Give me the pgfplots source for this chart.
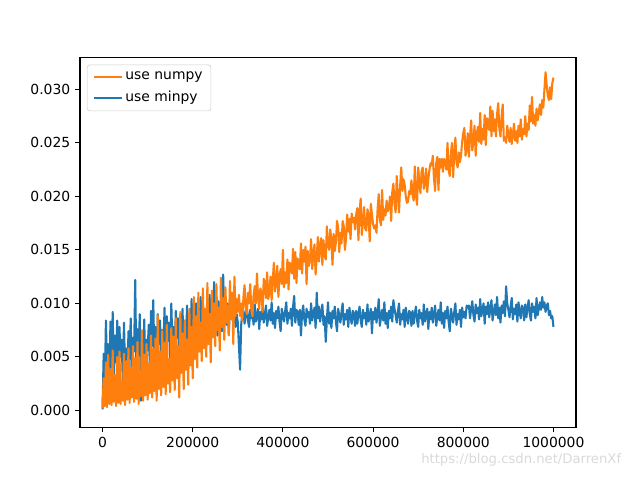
\documentclass[border=0pt]{standalone}
\usepackage{fontspec}
\setmainfont{DejaVu Sans}
\usepackage{pgfplots}
\pgfplotsset{compat=1.18}
\definecolor{mplblue}{HTML}{1F77B4}
\definecolor{mplorange}{HTML}{FF7F0E}
\begin{document}
\fontsize{10}{12}\selectfont
\begin{tikzpicture}
\begin{axis}[
  scale only axis, width=357.12pt, height=266.11pt,
  xmin=-50000, xmax=1050000,
  ymin=-0.00157, ymax=0.03297,
  axis line style={line width=0.8pt},
  tick style={line width=0.8pt, black},
  tick align=outside, major tick length=3.5pt,
  xtick pos=bottom, ytick pos=left,
  xtick={0,200000,400000,600000,800000,1000000},
  ytick={0,0.005,0.010,0.015,0.020,0.025,0.030},
  scaled ticks=false,
  /pgf/number format/assume math mode=true,
  xticklabel style={/pgf/number format/fixed, /pgf/number format/1000 sep={}},
  yticklabel style={/pgf/number format/fixed, /pgf/number format/fixed zerofill, /pgf/number format/precision=3},
  ticklabel style={font=\fontsize{10}{12}\selectfont},
  legend style={at={(0,1)}, anchor=north west, xshift=5pt, yshift=-5pt,
    draw=black!20, rounded corners=2pt, font=\fontsize{10}{12}\selectfont,
    inner xsep=4pt, inner ysep=3pt, row sep=3pt},
  legend cell align=left,
  legend image code/.code={\draw[#1, line width=1.5pt] (0pt,0pt) -- (20pt,0pt);},
]
\coordinate (O) at (rel axis cs:0,0);
\addplot[color=mplblue, line width=1.5pt, line join=round, forget plot] table {
x y
0 0.0001
2500 0.0053
5000 0.0022
7500 0.0084
10000 0.0035
12500 0.0062
15000 0.0018
17500 0.0083
20000 0.0040
22500 0.0092
25000 0.0028
27500 0.0070
30000 0.0045
32500 0.0084
35000 0.0015
37500 0.0078
40000 0.0050
42500 0.0066
45000 0.0025
47500 0.0082
50000 0.0038
52500 0.0058
55000 0.0030
57500 0.0074
60000 0.0048
62500 0.0086
65000 0.0022
67500 0.0068
70000 0.0055
72500 0.0122
75000 0.0035
77500 0.0076
80000 0.0052
82500 0.0090
85000 0.0009
87500 0.0072
90000 0.0042
92500 0.0085
95000 0.0030
97500 0.0066
100000 0.0056
102500 0.0080
105000 0.0038
107500 0.0093
110000 0.0060
112500 0.0103
115000 0.0045
117500 0.0078
120000 0.0028
122500 0.0090
125000 0.0062
127500 0.0084
130000 0.0040
132500 0.0075
135000 0.0058
137500 0.0096
140000 0.0036
142500 0.0088
145000 0.0065
147500 0.0082
150000 0.0048
152500 0.0100
155000 0.0060
157500 0.0078
160000 0.0052
162500 0.0093
165000 0.0068
167500 0.0086
170000 0.0044
172500 0.0090
175000 0.0070
177500 0.0095
180000 0.0036
182500 0.0084
185000 0.0066
187500 0.0098
190000 0.0058
192500 0.0080
195000 0.0072
197500 0.0104
200000 0.0062
202500 0.0092
205000 0.0076
207500 0.0100
210000 0.0055
212500 0.0088
215000 0.0070
217500 0.0106
220000 0.0066
222500 0.0094
225000 0.0080
227500 0.0086
230000 0.0060
232500 0.0097
235000 0.0074
237500 0.0108
240000 0.0068
242500 0.0092
245000 0.0084
247500 0.0120
250000 0.0076
252500 0.0096
255000 0.0070
257500 0.0102
260000 0.0088
262500 0.0082
265000 0.0074
267500 0.0127
270000 0.0086
272500 0.0094
275000 0.0080
277500 0.0100
280000 0.0072
282500 0.0096
285000 0.0088
287500 0.0104
290000 0.0084
292500 0.0092
295000 0.0078
297500 0.0090
300000 0.0082
302500 0.0060
305000 0.0038
307500 0.0080
310000 0.0092
312500 0.0093
315000 0.0081
317500 0.0090
320000 0.0097
322500 0.0084
325000 0.0078
327500 0.0094
330000 0.0086
332500 0.0091
335000 0.0080
337500 0.0099
340000 0.0083
342500 0.0089
345000 0.0095
347500 0.0076
350000 0.0092
352500 0.0085
355000 0.0096
357500 0.0082
360000 0.0090
362500 0.0098
365000 0.0079
367500 0.0087
370000 0.0094
372500 0.0084
375000 0.0101
377500 0.0081
380000 0.0091
382500 0.0077
385000 0.0093
387500 0.0086
390000 0.0097
392500 0.0083
395000 0.0074
397500 0.0095
400000 0.0089
402500 0.0083
405000 0.0093
407500 0.0101
410000 0.0081
412500 0.0091
415000 0.0086
417500 0.0095
420000 0.0079
422500 0.0097
425000 0.0107
427500 0.0082
430000 0.0094
432500 0.0092
435000 0.0080
437500 0.0094
440000 0.0070
442500 0.0091
445000 0.0098
447500 0.0085
450000 0.0079
452500 0.0095
455000 0.0087
457500 0.0092
460000 0.0081
462500 0.0100
465000 0.0084
467500 0.0090
470000 0.0096
472500 0.0077
475000 0.0110
477500 0.0086
480000 0.0097
482500 0.0083
485000 0.0091
487500 0.0099
490000 0.0080
492500 0.0088
495000 0.0064
497500 0.0085
500000 0.0101
502500 0.0081
505000 0.0091
507500 0.0077
510000 0.0093
512500 0.0086
515000 0.0097
517500 0.0083
520000 0.0074
522500 0.0095
525000 0.0089
527500 0.0082
530000 0.0092
532500 0.0100
535000 0.0080
537500 0.0090
540000 0.0085
542500 0.0094
545000 0.0078
547500 0.0096
550000 0.0087
552500 0.0081
555000 0.0093
557500 0.0091
560000 0.0079
562500 0.0093
565000 0.0081
567500 0.0090
570000 0.0097
572500 0.0084
575000 0.0078
577500 0.0094
580000 0.0086
582500 0.0091
585000 0.0080
587500 0.0099
590000 0.0083
592500 0.0089
595000 0.0095
597500 0.0072
600000 0.0092
602500 0.0085
605000 0.0096
607500 0.0082
610000 0.0090
612500 0.0104
615000 0.0079
617500 0.0087
620000 0.0094
622500 0.0084
625000 0.0101
627500 0.0081
630000 0.0091
632500 0.0077
635000 0.0093
637500 0.0086
640000 0.0097
642500 0.0083
645000 0.0103
647500 0.0095
650000 0.0089
652500 0.0082
655000 0.0092
657500 0.0100
660000 0.0080
662500 0.0090
665000 0.0085
667500 0.0094
670000 0.0078
672500 0.0096
675000 0.0087
677500 0.0081
680000 0.0093
682500 0.0091
685000 0.0079
687500 0.0093
690000 0.0081
692500 0.0090
695000 0.0097
697500 0.0084
700000 0.0078
702500 0.0094
705000 0.0086
707500 0.0091
710000 0.0080
712500 0.0099
715000 0.0083
717500 0.0089
720000 0.0095
722500 0.0076
725000 0.0092
727500 0.0085
730000 0.0096
732500 0.0082
735000 0.0090
737500 0.0098
740000 0.0079
742500 0.0087
745000 0.0094
747500 0.0084
750000 0.0101
752500 0.0081
755000 0.0091
757500 0.0077
760000 0.0093
762500 0.0086
765000 0.0097
767500 0.0083
770000 0.0074
772500 0.0095
775000 0.0089
777500 0.0082
780000 0.0092
782500 0.0100
785000 0.0080
787500 0.0090
790000 0.0085
792500 0.0094
795000 0.0078
797500 0.0096
800000 0.0087
802500 0.0092
805000 0.0086
807500 0.0098
810000 0.0096
812500 0.0098
815000 0.0086
817500 0.0095
820000 0.0102
822500 0.0089
825000 0.0083
827500 0.0099
830000 0.0091
832500 0.0096
835000 0.0085
837500 0.0104
840000 0.0088
842500 0.0094
845000 0.0100
847500 0.0081
850000 0.0097
852500 0.0090
855000 0.0101
857500 0.0087
860000 0.0095
862500 0.0103
865000 0.0084
867500 0.0092
870000 0.0099
872500 0.0089
875000 0.0106
877500 0.0086
880000 0.0096
882500 0.0082
885000 0.0098
887500 0.0091
890000 0.0102
892500 0.0088
895000 0.0116
897500 0.0100
900000 0.0094
902500 0.0087
905000 0.0097
907500 0.0105
910000 0.0085
912500 0.0095
915000 0.0090
917500 0.0099
920000 0.0083
922500 0.0101
925000 0.0092
927500 0.0086
930000 0.0098
932500 0.0096
935000 0.0084
937500 0.0099
940000 0.0087
942500 0.0096
945000 0.0103
947500 0.0090
950000 0.0084
952500 0.0100
955000 0.0092
957500 0.0097
960000 0.0086
962500 0.0105
965000 0.0089
967500 0.0095
970000 0.0101
972500 0.0094
975000 0.0106
977500 0.0096
980000 0.0101
982500 0.0092
985000 0.0098
987500 0.0100
990000 0.0089
992500 0.0093
995000 0.0086
997500 0.0088
1000000 0.0078
};
\addplot[color=mplorange, line width=1.5pt, line join=round] table {
x y
0 0.0002
2500 0.0030
5000 0.0004
7500 0.0045
10000 0.0003
12500 0.0052
15000 0.0006
17500 0.0038
20000 0.0005
22500 0.0056
25000 0.0008
27500 0.0033
30000 0.0004
32500 0.0050
35000 0.0007
37500 0.0055
40000 0.0006
42500 0.0028
45000 0.0009
47500 0.0053
50000 0.0005
52500 0.0046
55000 0.0010
57500 0.0058
60000 0.0007
62500 0.0040
65000 0.0012
67500 0.0060
70000 0.0008
72500 0.0049
75000 0.0011
77500 0.0064
80000 0.0006
82500 0.0037
85000 0.0013
87500 0.0075
90000 0.0009
92500 0.0052
95000 0.0014
97500 0.0062
100000 0.0010
102500 0.0044
105000 0.0016
107500 0.0070
110000 0.0012
112500 0.0058
115000 0.0018
117500 0.0067
120000 0.0009
122500 0.0089
125000 0.0020
127500 0.0055
130000 0.0014
132500 0.0074
135000 0.0022
137500 0.0063
140000 0.0015
142500 0.0080
145000 0.0025
147500 0.0048
150000 0.0017
152500 0.0077
155000 0.0028
157500 0.0069
160000 0.0019
162500 0.0086
165000 0.0030
167500 0.0060
170000 0.0012
172500 0.0092
175000 0.0035
177500 0.0072
180000 0.0020
182500 0.0084
185000 0.0038
187500 0.0066
190000 0.0024
192500 0.0095
195000 0.0042
197500 0.0078
200000 0.0030
202500 0.0106
205000 0.0048
207500 0.0088
210000 0.0040
212500 0.0110
215000 0.0055
217500 0.0082
220000 0.0046
222500 0.0114
225000 0.0058
227500 0.0095
230000 0.0050
232500 0.0119
235000 0.0062
237500 0.0090
240000 0.0045
242500 0.0112
245000 0.0068
247500 0.0100
250000 0.0060
252500 0.0118
255000 0.0075
257500 0.0096
260000 0.0056
262500 0.0124
265000 0.0078
267500 0.0105
270000 0.0066
272500 0.0115
275000 0.0082
277500 0.0098
280000 0.0070
282500 0.0121
285000 0.0085
287500 0.0110
290000 0.0062
292500 0.0125
295000 0.0088
297500 0.0104
300000 0.0092
302500 0.0108
305000 0.0088
307500 0.0100
310000 0.0084
312500 0.0106
315000 0.0117
317500 0.0095
320000 0.0090
322500 0.0110
325000 0.0100
327500 0.0118
330000 0.0094
332500 0.0088
335000 0.0108
337500 0.0116
340000 0.0100
342500 0.0128
345000 0.0104
347500 0.0095
350000 0.0114
352500 0.0110
355000 0.0092
357500 0.0123
360000 0.0119
362500 0.0105
365000 0.0129
367500 0.0104
370000 0.0110
372500 0.0125
375000 0.0103
377500 0.0122
380000 0.0138
382500 0.0111
385000 0.0119
387500 0.0135
390000 0.0106
392500 0.0125
395000 0.0132
397500 0.0118
400000 0.0150
402500 0.0115
405000 0.0129
407500 0.0119
410000 0.0141
412500 0.0113
415000 0.0138
417500 0.0136
420000 0.0128
422500 0.0151
425000 0.0123
427500 0.0148
430000 0.0119
432500 0.0142
435000 0.0134
437500 0.0132
440000 0.0156
442500 0.0128
445000 0.0150
447500 0.0139
450000 0.0153
452500 0.0118
455000 0.0149
457500 0.0135
460000 0.0141
462500 0.0160
465000 0.0132
467500 0.0147
470000 0.0155
472500 0.0127
475000 0.0143
477500 0.0162
480000 0.0139
482500 0.0154
485000 0.0161
487500 0.0136
490000 0.0159
492500 0.0145
495000 0.0141
497500 0.0172
500000 0.0154
502500 0.0150
505000 0.0169
507500 0.0160
510000 0.0136
512500 0.0165
515000 0.0149
517500 0.0157
520000 0.0177
522500 0.0171
525000 0.0148
527500 0.0166
530000 0.0156
532500 0.0177
535000 0.0172
537500 0.0150
540000 0.0161
542500 0.0183
545000 0.0167
547500 0.0179
550000 0.0160
552500 0.0184
555000 0.0176
557500 0.0180
560000 0.0169
562500 0.0183
565000 0.0189
567500 0.0159
570000 0.0186
572500 0.0198
575000 0.0164
577500 0.0177
580000 0.0190
582500 0.0170
585000 0.0168
587500 0.0188
590000 0.0183
592500 0.0158
595000 0.0193
597500 0.0183
600000 0.0174
602500 0.0170
605000 0.0173
607500 0.0166
610000 0.0188
612500 0.0202
615000 0.0178
617500 0.0173
620000 0.0206
622500 0.0178
625000 0.0188
627500 0.0182
630000 0.0196
632500 0.0186
635000 0.0190
637500 0.0200
640000 0.0177
642500 0.0204
645000 0.0212
647500 0.0193
650000 0.0185
652500 0.0219
655000 0.0199
657500 0.0185
660000 0.0210
662500 0.0227
665000 0.0205
667500 0.0216
670000 0.0211
672500 0.0200
675000 0.0194
677500 0.0195
680000 0.0205
682500 0.0202
685000 0.0215
687500 0.0202
690000 0.0196
692500 0.0228
695000 0.0202
697500 0.0192
700000 0.0227
702500 0.0214
705000 0.0203
707500 0.0223
710000 0.0227
712500 0.0207
715000 0.0212
717500 0.0226
720000 0.0204
722500 0.0216
725000 0.0225
727500 0.0231
730000 0.0229
732500 0.0238
735000 0.0217
737500 0.0205
740000 0.0231
742500 0.0237
745000 0.0206
747500 0.0235
750000 0.0227
752500 0.0235
755000 0.0223
757500 0.0235
760000 0.0233
762500 0.0225
765000 0.0250
767500 0.0225
770000 0.0219
772500 0.0240
775000 0.0250
777500 0.0218
780000 0.0240
782500 0.0255
785000 0.0232
787500 0.0227
790000 0.0241
792500 0.0232
795000 0.0238
797500 0.0251
800000 0.0259
802500 0.0264
805000 0.0238
807500 0.0245
810000 0.0259
812500 0.0237
815000 0.0255
817500 0.0271
820000 0.0243
822500 0.0251
825000 0.0266
827500 0.0238
830000 0.0258
832500 0.0265
835000 0.0251
837500 0.0278
840000 0.0249
842500 0.0263
845000 0.0253
847500 0.0276
850000 0.0248
852500 0.0273
855000 0.0270
857500 0.0262
860000 0.0284
862500 0.0256
865000 0.0280
867500 0.0261
870000 0.0272
872500 0.0256
875000 0.0277
877500 0.0287
880000 0.0263
882500 0.0256
885000 0.0275
887500 0.0286
890000 0.0252
892500 0.0255
895000 0.0250
897500 0.0266
900000 0.0258
902500 0.0251
905000 0.0264
907500 0.0249
910000 0.0258
912500 0.0268
915000 0.0252
917500 0.0261
920000 0.0250
922500 0.0266
925000 0.0256
927500 0.0272
930000 0.0253
932500 0.0263
935000 0.0258
937500 0.0275
940000 0.0256
942500 0.0268
945000 0.0262
947500 0.0285
950000 0.0270
952500 0.0293
955000 0.0268
957500 0.0276
960000 0.0266
962500 0.0282
965000 0.0271
967500 0.0279
970000 0.0286
972500 0.0276
975000 0.0290
977500 0.0283
980000 0.0300
982500 0.0316
985000 0.0304
987500 0.0294
990000 0.0290
992500 0.0302
995000 0.0291
997500 0.0306
1000000 0.0311
};
\addlegendentry{use numpy}
\addlegendimage{color=mplblue}
\addlegendentry{use minpy}
\end{axis}
\pgfresetboundingbox
\path[use as bounding box] (O) ++(-57.6pt,-38.02pt) rectangle ++(460.8pt,345.6pt);
\node[anchor=west, text=black!15, font=\fontsize{9.5}{11}\selectfont, inner sep=0pt] at ([shift={(245.5pt,-23.6pt)}]O) {https://blog.csdn.net/DarrenXf};
\end{tikzpicture}
\end{document}
